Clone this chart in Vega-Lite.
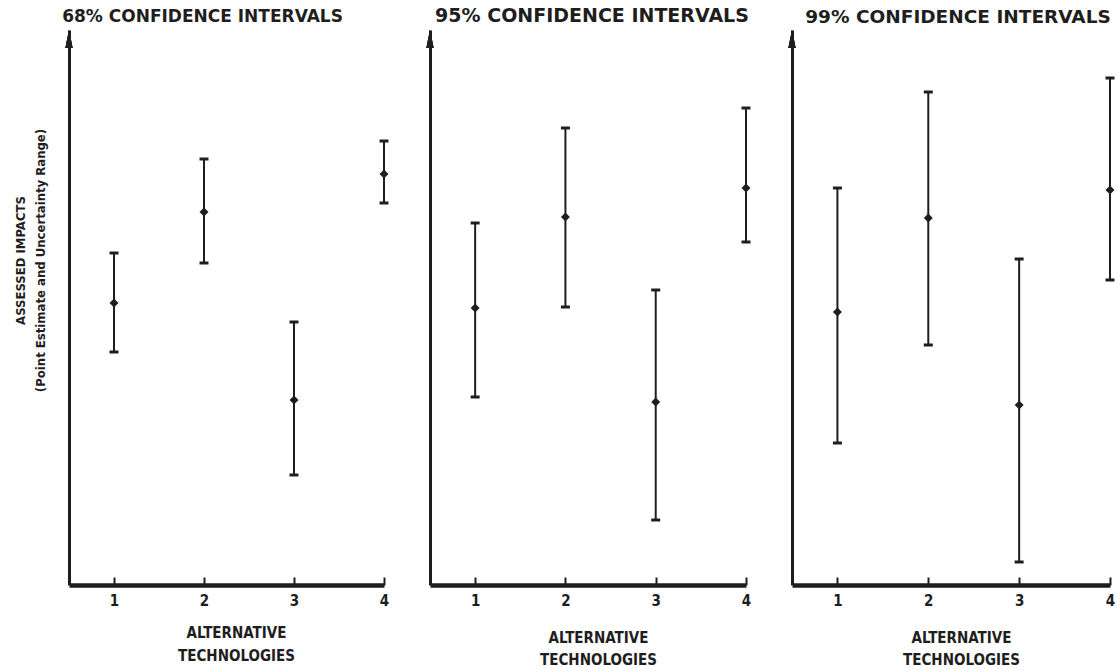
{
  "$schema": "https://vega.github.io/schema/vega-lite/v6.json",
  "autosize": {"type": "none"},
  "padding": {"left": 69, "top": 30, "right": 1048, "bottom": 640},
  "background": "white",
  "config": {
    "view": {"stroke": null},
    "axis": {"grid": false, "domainColor": "#1e1e1e", "tickColor": "#1e1e1e", "labelColor": "#1e1e1e", "titleColor": "#1e1e1e"},
    "title": {"color": "#1e1e1e", "font": "DejaVu Sans", "fontWeight": "bold", "fontSize": 18, "offset": 4, "anchor": "middle"}
  },
  "datasets": {
    "ci": [
      {"ci": "68%", "tech": 1, "lo": 233, "mid": 282, "hi": 332},
      {"ci": "68%", "tech": 2, "lo": 322, "mid": 373, "hi": 426},
      {"ci": "68%", "tech": 3, "lo": 110, "mid": 185, "hi": 263},
      {"ci": "68%", "tech": 4, "lo": 382, "mid": 411, "hi": 444},
      {"ci": "95%", "tech": 1, "lo": 188, "mid": 277, "hi": 362},
      {"ci": "95%", "tech": 2, "lo": 278, "mid": 368, "hi": 457},
      {"ci": "95%", "tech": 3, "lo": 65, "mid": 183, "hi": 295},
      {"ci": "95%", "tech": 4, "lo": 343, "mid": 397, "hi": 477},
      {"ci": "99%", "tech": 1, "lo": 142, "mid": 273, "hi": 397},
      {"ci": "99%", "tech": 2, "lo": 240, "mid": 367, "hi": 493},
      {"ci": "99%", "tech": 3, "lo": 23, "mid": 180, "hi": 326},
      {"ci": "99%", "tech": 4, "lo": 305, "mid": 395, "hi": 507}
    ]
  },
  "hconcat": [
    {
      "width": 315, "height": 555,
      "title": {"text": "68% CONFIDENCE INTERVALS", "dx": -24, "fontSize": 17},
      "data": {"name": "ci"},
      "transform": [{"filter": "datum.ci == '68%'"}],
      "encoding": {
        "x": {"field": "tech", "type": "quantitative", "scale": {"domain": [0.5, 4], "nice": false},
          "axis": {"values": [1, 2, 3, 4], "format": "d", "title": ["ALTERNATIVE", "TECHNOLOGIES"], "domainWidth": 4.5, "tickSize": -8, "tickWidth": 2, "labelFont": "DejaVu Sans Condensed, DejaVu Sans", "labelFontSize": 15, "labelFontWeight": "bold", "labelPadding": 16, "labelFlush": false, "titleFont": "DejaVu Sans Condensed, DejaVu Sans", "titleFontSize": 15, "titleFontWeight": "bold", "titleLineHeight": 23, "titleX": 167, "titleY": 47, "titleAlign": "center", "titleBaseline": "middle"}}
      },
      "layer": [
        {"mark": {"type": "rule", "strokeWidth": 2, "color": "#1e1e1e"},
          "encoding": {"y": {"field": "lo", "type": "quantitative", "scale": {"domain": [0, 555], "nice": false},
            "axis": {"title": ["ASSESSED IMPACTS", "(Point Estimate and Uncertainty Range)"], "labels": false, "ticks": false, "domainWidth": 3, "titleFont": "DejaVu Sans Condensed, DejaVu Sans", "titleFontSize": 13, "titleFontWeight": "bold", "titleX": -49, "titleY": 230, "titleAngle": 270, "titleAlign": "center", "titleBaseline": "middle", "titleLineHeight": 20}},
            "y2": {"field": "hi"}}},
        {"mark": {"type": "tick", "orient": "horizontal", "size": 9, "thickness": 3, "color": "#1e1e1e", "opacity": 1},
          "encoding": {"y": {"field": "hi", "type": "quantitative", "scale": {"domain": [0, 555], "nice": false}}}},
        {"mark": {"type": "tick", "orient": "horizontal", "size": 9, "thickness": 3, "color": "#1e1e1e", "opacity": 1},
          "encoding": {"y": {"field": "lo", "type": "quantitative", "scale": {"domain": [0, 555], "nice": false}}}},
        {"mark": {"type": "point", "shape": "diamond", "filled": true, "size": 80, "color": "#1e1e1e", "opacity": 1},
          "encoding": {"y": {"field": "mid", "type": "quantitative", "scale": {"domain": [0, 555], "nice": false}}}},
        {"mark": {"type": "point", "shape": "M0,-1L0.4,1L-0.4,1Z", "filled": true, "size": 324, "color": "#1e1e1e", "opacity": 1},
          "encoding": {"x": {"datum": 0.5, "type": "quantitative"}, "y": {"datum": 546, "type": "quantitative"}}}
      ]
    },
    {
      "width": 316, "height": 555,
      "title": {"text": "95% CONFIDENCE INTERVALS", "dx": 4, "fontSize": 19},
      "data": {"name": "ci"},
      "transform": [{"filter": "datum.ci == '95%'"}],
      "encoding": {
        "x": {"field": "tech", "type": "quantitative", "scale": {"domain": [0.5, 4], "nice": false},
          "axis": {"values": [1, 2, 3, 4], "format": "d", "title": ["ALTERNATIVE", "TECHNOLOGIES"], "domainWidth": 4.5, "tickSize": -8, "tickWidth": 2, "labelFont": "DejaVu Sans Condensed, DejaVu Sans", "labelFontSize": 15, "labelFontWeight": "bold", "labelPadding": 16, "labelFlush": false, "titleFont": "DejaVu Sans Condensed, DejaVu Sans", "titleFontSize": 15, "titleFontWeight": "bold", "titleLineHeight": 22, "titleX": 168, "titleY": 52, "titleAlign": "center", "titleBaseline": "middle"}}
      },
      "layer": [
        {"mark": {"type": "rule", "strokeWidth": 2, "color": "#1e1e1e"},
          "encoding": {"y": {"field": "lo", "type": "quantitative", "scale": {"domain": [0, 555], "nice": false},
            "axis": {"title": null, "labels": false, "ticks": false, "domainWidth": 3}},
            "y2": {"field": "hi"}}},
        {"mark": {"type": "tick", "orient": "horizontal", "size": 9, "thickness": 3, "color": "#1e1e1e", "opacity": 1},
          "encoding": {"y": {"field": "hi", "type": "quantitative", "scale": {"domain": [0, 555], "nice": false}}}},
        {"mark": {"type": "tick", "orient": "horizontal", "size": 9, "thickness": 3, "color": "#1e1e1e", "opacity": 1},
          "encoding": {"y": {"field": "lo", "type": "quantitative", "scale": {"domain": [0, 555], "nice": false}}}},
        {"mark": {"type": "point", "shape": "diamond", "filled": true, "size": 80, "color": "#1e1e1e", "opacity": 1},
          "encoding": {"y": {"field": "mid", "type": "quantitative", "scale": {"domain": [0, 555], "nice": false}}}},
        {"mark": {"type": "point", "shape": "M0,-1L0.4,1L-0.4,1Z", "filled": true, "size": 324, "color": "#1e1e1e", "opacity": 1},
          "encoding": {"x": {"datum": 0.5, "type": "quantitative"}, "y": {"datum": 546, "type": "quantitative"}}}
      ]
    },
    {
      "width": 318, "height": 555,
      "title": {"text": "99% CONFIDENCE INTERVALS", "dx": 7, "fontSize": 18.5},
      "data": {"name": "ci"},
      "transform": [{"filter": "datum.ci == '99%'"}],
      "encoding": {
        "x": {"field": "tech", "type": "quantitative", "scale": {"domain": [0.5, 4], "nice": false},
          "axis": {"values": [1, 2, 3, 4], "format": "d", "title": ["ALTERNATIVE", "TECHNOLOGIES"], "domainWidth": 4.5, "tickSize": -8, "tickWidth": 2, "labelFont": "DejaVu Sans Condensed, DejaVu Sans", "labelFontSize": 15, "labelFontWeight": "bold", "labelPadding": 16, "labelFlush": false, "titleFont": "DejaVu Sans Condensed, DejaVu Sans", "titleFontSize": 15, "titleFontWeight": "bold", "titleLineHeight": 22, "titleX": 169, "titleY": 52, "titleAlign": "center", "titleBaseline": "middle"}}
      },
      "layer": [
        {"mark": {"type": "rule", "strokeWidth": 2, "color": "#1e1e1e"},
          "encoding": {"y": {"field": "lo", "type": "quantitative", "scale": {"domain": [0, 555], "nice": false},
            "axis": {"title": null, "labels": false, "ticks": false, "domainWidth": 3}},
            "y2": {"field": "hi"}}},
        {"mark": {"type": "tick", "orient": "horizontal", "size": 9, "thickness": 3, "color": "#1e1e1e", "opacity": 1},
          "encoding": {"y": {"field": "hi", "type": "quantitative", "scale": {"domain": [0, 555], "nice": false}}}},
        {"mark": {"type": "tick", "orient": "horizontal", "size": 9, "thickness": 3, "color": "#1e1e1e", "opacity": 1},
          "encoding": {"y": {"field": "lo", "type": "quantitative", "scale": {"domain": [0, 555], "nice": false}}}},
        {"mark": {"type": "point", "shape": "diamond", "filled": true, "size": 80, "color": "#1e1e1e", "opacity": 1},
          "encoding": {"y": {"field": "mid", "type": "quantitative", "scale": {"domain": [0, 555], "nice": false}}}},
        {"mark": {"type": "point", "shape": "M0,-1L0.4,1L-0.4,1Z", "filled": true, "size": 324, "color": "#1e1e1e", "opacity": 1},
          "encoding": {"x": {"datum": 0.5, "type": "quantitative"}, "y": {"datum": 546, "type": "quantitative"}}}
      ]
    }
  ],
  "spacing": 46,
  "bounds": "flush"
}
